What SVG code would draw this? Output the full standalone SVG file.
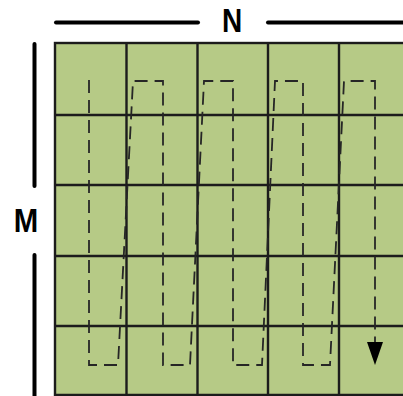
<svg xmlns="http://www.w3.org/2000/svg" width="403" height="396" viewBox="0 0 403 396">
<defs>
<style>
.cell{fill:#b6ca86;stroke:#1c1c1c;stroke-width:2.4}
.axis{stroke:#000;stroke-width:4;stroke-linecap:round;fill:none}
.lbl{font-family:"Liberation Sans",Arial,sans-serif;font-weight:bold;font-size:28px;fill:#000;text-anchor:middle}
.path{fill:none;stroke:#262626;stroke-width:1.8;stroke-dasharray:13 7}
</style>
<marker id="ah" viewBox="0 0 10 10" refX="0" refY="5" markerWidth="23" markerHeight="16" markerUnits="userSpaceOnUse" orient="auto" preserveAspectRatio="none">
<path d="M0,0 L10,5 L0,10 Z" fill="#000"/>
</marker>
</defs>
<rect width="403" height="396" fill="#fff"/>
<g id="grid">
<rect class="cell" x="55" y="43" width="360" height="360"/>
<g stroke="#1c1c1c" stroke-width="2.4">
<line x1="126.5" y1="43" x2="126.5" y2="396"/>
<line x1="197.5" y1="43" x2="197.5" y2="396"/>
<line x1="268" y1="43" x2="268" y2="396"/>
<line x1="339" y1="43" x2="339" y2="396"/>
<line x1="55" y1="115" x2="403" y2="115"/>
<line x1="55" y1="185" x2="403" y2="185"/>
<line x1="55" y1="256" x2="403" y2="256"/>
<line x1="55" y1="326" x2="403" y2="326"/>
<line x1="55" y1="395" x2="403" y2="395"/>
</g>
</g>
<g id="axis-n">
<line class="axis" x1="56" y1="22.5" x2="198" y2="22.5"/>
<line class="axis" x1="268" y1="22.5" x2="405" y2="22.5"/>
<text class="lbl" transform="translate(232,32) scale(1,1.2)">N</text>
</g>
<g id="axis-m">
<line class="axis" x1="34.5" y1="44" x2="34.5" y2="186"/>
<line class="axis" x1="34.5" y1="255" x2="34.5" y2="398"/>
<text class="lbl" transform="translate(26,232) scale(1.05,1.2)">M</text>
</g>
<g id="connectors">
<path class="path" d="M89,80 L89,365 L118,365 L133,81 L163,81 L163,365 L190,365 L204,81 L233,81 L233,365 L262,365 L275,81 L303,81 L303,365 L330,365 L344,81 L375,81 L375,342" marker-end="url(#ah)"/>
</g>
</svg>
